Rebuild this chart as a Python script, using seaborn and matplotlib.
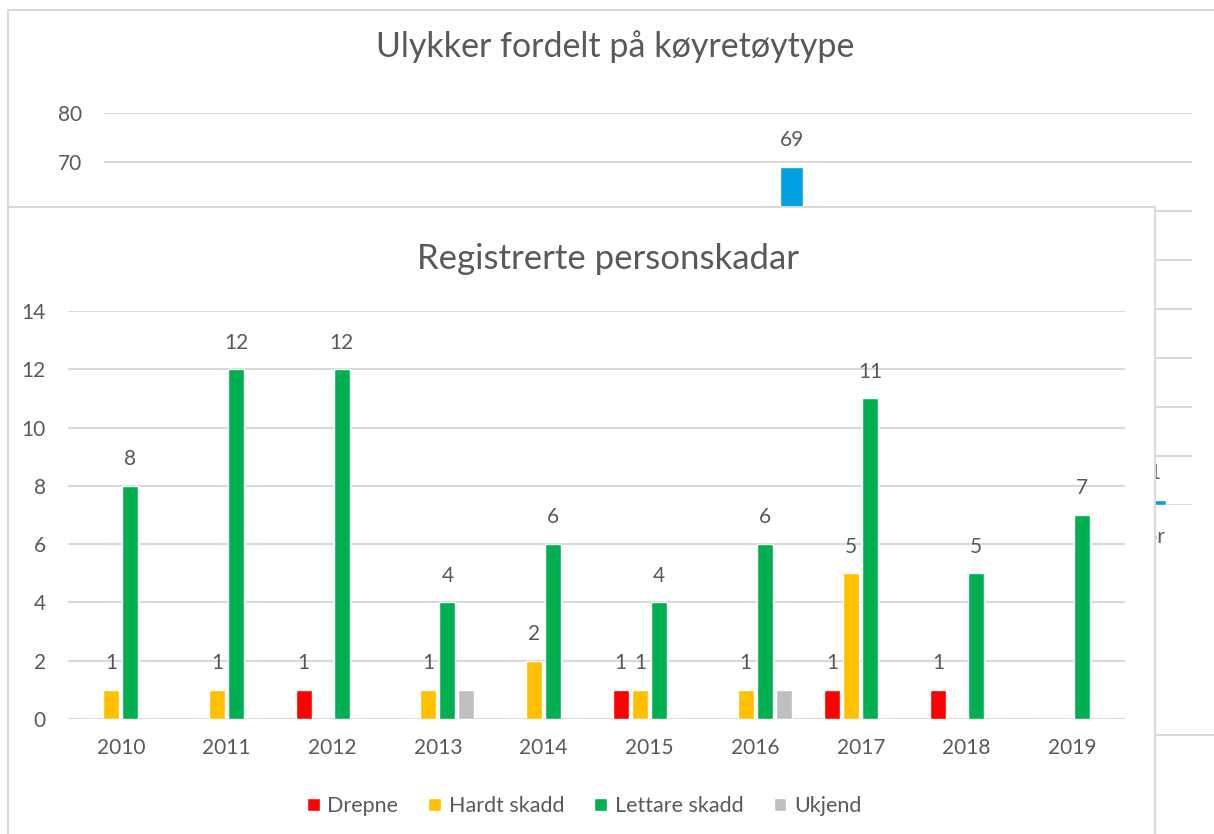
import numpy as np
import pandas as pd
import matplotlib
matplotlib.use('Agg')
import matplotlib.pyplot as plt
from matplotlib.patches import Rectangle
import seaborn as sns

# Registrerte personskadar (foreground chart)
years = ['2010', '2011', '2012', '2013', '2014', '2015', '2016', '2017', '2018', '2019']
drepne = [0, 0, 1, 0, 0, 1, 0, 1, 1, 0]
hardt_skadd = [1, 1, 0, 1, 2, 1, 1, 5, 0, 0]
lettare_skadd = [8, 12, 12, 4, 6, 4, 6, 11, 5, 7]
ukjend = [0, 0, 0, 1, 0, 0, 1, 0, 0, 0]

# Ulykker fordelt på køyretøytype (background chart, mostly hidden)
vehicles = ['Fotgjengar', 'Sykkel', 'Moped', 'MC', 'Varebil', 'Personbil', 'Lastebil', 'Buss', 'Traktor']
bg_series = ['Drepne', 'Skadde', 'Ulykker']
bg_drepne = [0, 0, 0, 1, 0, 3, 1, 0, 0]
bg_skadde = [4, 6, 3, 9, 5, 40, 3, 2, 1]
bg_ulykker = [4, 6, 3, 10, 6, 69, 4, 2, 1]

W, H = 1214, 834
TXT = '#595959'
GRID = '#D9D9D9'

sns.set_theme(style='white')
plt.rcParams['font.family'] = ['Lato', 'DejaVu Sans']

fig = plt.figure(figsize=(W / 100, H / 100), dpi=100)
fig.patch.set_facecolor('white')


def fx(px):
    return px / W


def fy(py):
    return 1 - py / H


# ---- background chart ----
fig.patches.append(Rectangle((fx(8), fy(735)), fx(1240) - fx(8), fy(10) - fy(735),
                             transform=fig.transFigure, fill=False,
                             edgecolor=GRID, lw=1.5, zorder=-1))

bg = pd.DataFrame({'Køyretøy': vehicles, 'Drepne': bg_drepne,
                   'Skadde': bg_skadde, 'Ulykker': bg_ulykker})
bg = bg.melt(id_vars='Køyretøy', var_name='Serie', value_name='Tal')

ax_bg = fig.add_axes([fx(104), fy(505), fx(1192) - fx(104), fy(113) - fy(505)], zorder=0)
ax_bg.set_facecolor('none')
sns.barplot(data=bg, x='Køyretøy', y='Tal', hue='Serie', hue_order=bg_series,
            palette=['#7F7F7F', '#A5A5A5', '#00A0E2'], width=0.57,
            saturation=1, legend=False, ax=ax_bg)
ax_bg.bar_label(ax_bg.containers[2], padding=12, fontsize=15, color=TXT)
ax_bg.set_ylim(0, 80)
bg_ticks = list(range(0, 81, 10))
ax_bg.set_yticks(bg_ticks)
# labels below 70 sit behind the front chart
ax_bg.set_yticklabels([str(t) if t >= 70 else '' for t in bg_ticks])
ax_bg.yaxis.grid(True, color=GRID, lw=1.5)
ax_bg.set_axisbelow(True)
for s in ax_bg.spines.values():
    s.set_visible(False)
ax_bg.tick_params(length=0, labelsize=15, labelcolor=TXT, pad=16)
ax_bg.set_xlabel('')
ax_bg.set_ylabel('')
fig.text(fx(615), fy(47), 'Ulykker fordelt på køyretøytype', ha='center', va='center',
         fontsize=24.5, color=TXT)

# ---- foreground chart ----
fig.patches.append(Rectangle((fx(8), fy(900)), fx(1155) - fx(8), fy(207) - fy(900),
                             transform=fig.transFigure, facecolor='white',
                             edgecolor=GRID, lw=1.5, zorder=1))

types = ['Drepne', 'Hardt skadd', 'Lettare skadd', 'Ukjend']
colors = ['#FF0000', '#FFC000', '#00B050', '#BFBFBF']
fg = pd.DataFrame({'År': years, 'Drepne': drepne, 'Hardt skadd': hardt_skadd,
                   'Lettare skadd': lettare_skadd, 'Ukjend': ukjend})
fg = fg.melt(id_vars='År', var_name='Type', value_name='Tal')

ax = fig.add_axes([fx(68), fy(719), fx(1125) - fx(68), fy(311) - fy(719)], zorder=2)
ax.set_facecolor('none')
sns.barplot(data=fg, x='År', y='Tal', hue='Type', hue_order=types, palette=colors,
            width=0.72, gap=0.16, saturation=1, ax=ax)

for cont, name in zip(ax.containers, types):
    if name == 'Ukjend':
        continue
    labels = [f'{int(v)}' if v > 0 else '' for v in cont.datavalues]
    ax.bar_label(cont, labels=labels, padding=12, fontsize=15, color=TXT)

ax.set_ylim(0, 14)
ax.set_yticks(range(0, 15, 2))
ax.yaxis.grid(True, color=GRID, lw=1.5)
ax.set_axisbelow(True)
for s in ax.spines.values():
    s.set_visible(False)
ax.tick_params(axis='y', length=0, labelsize=15, labelcolor=TXT, pad=16)
ax.tick_params(axis='x', length=0, labelsize=15, labelcolor=TXT, pad=14)
ax.set_xlabel('')
ax.set_ylabel('')

handles, labels = ax.get_legend_handles_labels()
ax.legend(handles, labels, loc='center', bbox_to_anchor=(fx(584), fy(806)),
          bbox_transform=fig.transFigure, ncol=4, frameon=False,
          handlelength=0.6, handleheight=0.6, handletextpad=0.35,
          columnspacing=1.4, fontsize=15.5, labelcolor=TXT)

fig.text(fx(608), fy(259), 'Registrerte personskadar', ha='center', va='center',
         fontsize=25, color=TXT, zorder=5)

fig.savefig('out.png', dpi=100)
